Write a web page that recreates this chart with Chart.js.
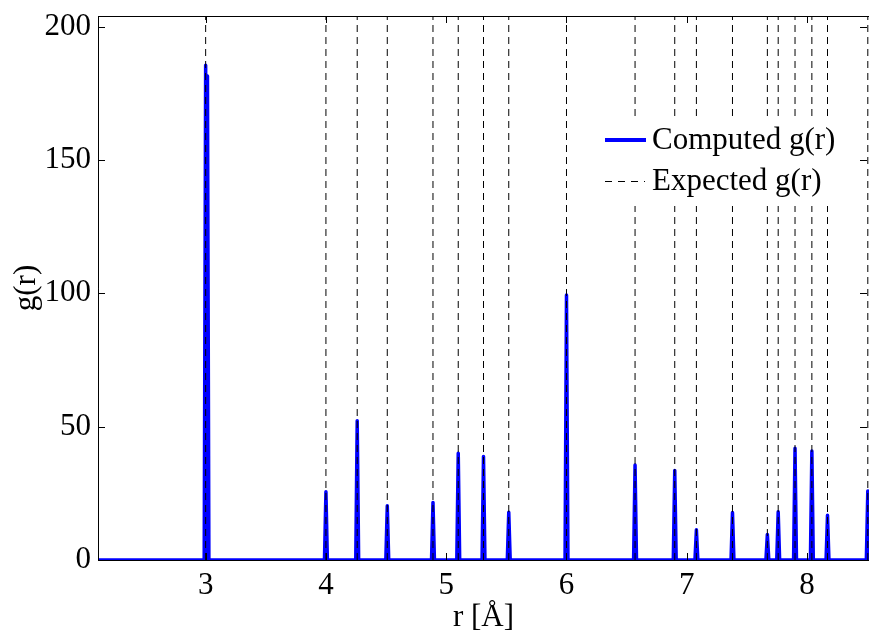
<!DOCTYPE html>
<html>
<head>
<meta charset="utf-8">
<script src="https://cdn.jsdelivr.net/npm/chart.js@4"></script>
<style>
  html, body { margin: 0; padding: 0; background: #fff; }
  #wrap { width: 869px; height: 634px; position: relative; }
</style>
</head>
<body>
<div id="wrap"><canvas id="grChart"></canvas></div>
<script>
  // axis ranges and ticks
  const xMin = 2.105, xMax = 8.515;
  const yMin = 0, yMax = 204;
  const xTicks = [3, 4, 5, 6, 7, 8];
  const yTicks = [0, 50, 100, 150, 200];

  // expected neighbour distances (dashed lines)
  const expectedR = [3.0, 4.0, 4.26, 4.51, 4.89, 5.10, 5.31, 5.52, 6.0, 6.57, 6.90,
                     7.08, 7.38, 7.67, 7.76, 7.90, 8.04, 8.17, 8.505];

  // computed g(r) peaks
  const computedR = [3.0, 3.015, 4.0, 4.26, 4.51, 4.89, 5.10, 5.31, 5.52, 6.0, 6.57,
                     6.90, 7.08, 7.38, 7.67, 7.76, 7.90, 8.04, 8.17, 8.505];
  const computedG = [185.5, 181.5, 25.6, 52.2, 20.3, 21.6, 40.0, 38.8, 17.9, 99.4, 35.6,
                     33.6, 11.3, 17.8, 9.6, 18.1, 41.9, 40.9, 16.8, 25.9];
  const peakHalfWidth = 0.012;

  const FONT = 'Liberation Serif, Times New Roman, serif';

  // blue line: flat at zero with a narrow spike at each peak
  const computedPts = [{x: xMin, y: 0}];
  computedR.forEach((r, i) => {
    computedPts.push({x: r - peakHalfWidth, y: 0});
    computedPts.push({x: r, y: computedG[i]});
    computedPts.push({x: r + peakHalfWidth, y: 0});
  });
  computedPts.push({x: xMax, y: 0});

  // dashed vertical lines, separated by gaps
  const expectedPts = [];
  expectedR.forEach(r => {
    expectedPts.push({x: r, y: yMin});
    expectedPts.push({x: r, y: yMax});
    expectedPts.push({x: r, y: null});
  });

  // box, inward ticks and the legend
  const boxPlugin = {
    id: 'box',
    afterDraw(chart) {
      const {ctx, chartArea: a, scales} = chart;
      ctx.save();
      ctx.strokeStyle = '#000';
      ctx.lineWidth = 1;
      ctx.beginPath();
      xTicks.forEach(v => {
        const px = Math.round(scales.x.getPixelForValue(v)) + 0.5;
        ctx.moveTo(px, a.bottom); ctx.lineTo(px, a.bottom - 7);
        ctx.moveTo(px, a.top); ctx.lineTo(px, a.top + 7);
      });
      yTicks.forEach(v => {
        const py = Math.round(scales.y.getPixelForValue(v)) + 0.5;
        ctx.moveTo(a.left, py); ctx.lineTo(a.left + 7, py);
        ctx.moveTo(a.right - 2, py); ctx.lineTo(a.right - 9, py);
      });
      ctx.stroke();
      ctx.beginPath();
      ctx.moveTo(a.left + 0.5, a.bottom);
      ctx.lineTo(a.left + 0.5, a.top + 0.5);
      ctx.lineTo(a.right, a.top + 0.5);
      ctx.stroke();

      // legend
      ctx.fillStyle = '#fff';
      ctx.fillRect(600, 117, 248, 89);
      ctx.strokeStyle = '#0000ff';
      ctx.lineWidth = 4;
      ctx.beginPath();
      ctx.moveTo(605, 140); ctx.lineTo(646, 140);
      ctx.stroke();
      ctx.strokeStyle = '#000';
      ctx.lineWidth = 1;
      ctx.setLineDash([7, 6]);
      ctx.beginPath();
      ctx.moveTo(605, 181.5); ctx.lineTo(645, 181.5);
      ctx.stroke();
      ctx.setLineDash([]);
      ctx.fillStyle = '#000';
      ctx.font = '31px ' + FONT;
      ctx.textBaseline = 'alphabetic';
      ctx.fillText('Computed g(r)', 652, 149);
      ctx.fillText('Expected g(r)', 652, 190);
      ctx.restore();
    }
  };

  new Chart(document.getElementById('grChart'), {
    type: 'line',
    data: {
      datasets: [{
        label: 'Computed g(r)',
        data: computedPts,
        borderColor: '#0000ff',
        borderWidth: 3.5,
        borderJoinStyle: 'round',
        pointRadius: 0,
        tension: 0,
        order: 2
      }, {
        label: 'Expected g(r)',
        data: expectedPts,
        borderColor: '#000',
        borderWidth: 1,
        borderDash: [7, 5],
        pointRadius: 0,
        spanGaps: false,
        order: 1
      }]
    },
    options: {
      responsive: true,
      maintainAspectRatio: false,
      animation: false,
      layout: { padding: { top: 16, right: 0, bottom: 0, left: 0 } },
      plugins: { legend: { display: false }, tooltip: { enabled: false } },
      scales: {
        x: {
          type: 'linear',
          min: xMin,
          max: xMax,
          afterBuildTicks: s => { s.ticks = xTicks.map(v => ({value: v})); },
          afterFit: s => { s.height = 74; s.paddingLeft = 0; s.paddingRight = 0; },
          grid: { display: false, drawTicks: false },
          border: { display: true, color: '#000', width: 1 },
          ticks: { color: '#000', padding: 7, maxRotation: 0, font: { family: FONT, size: 31 } },
          title: {
            display: true, text: 'r [Å]', color: '#000',
            font: { family: FONT, size: 31, lineHeight: 1 },
            padding: { top: 0, bottom: 1 }
          }
        },
        y: {
          min: yMin,
          max: yMax,
          afterBuildTicks: s => { s.ticks = yTicks.map(v => ({value: v})); },
          afterFit: s => { s.width = 98; s.paddingTop = 0; s.paddingBottom = 0; },
          grid: { display: false, drawTicks: false },
          border: { display: true, color: '#000', width: 1 },
          ticks: { color: '#000', padding: 7, font: { family: FONT, size: 31 } },
          title: {
            display: true, text: 'g(r)', color: '#000',
            font: { family: FONT, size: 31, lineHeight: 1 },
            padding: { top: 11, bottom: 0 }
          }
        }
      }
    },
    plugins: [boxPlugin]
  });
</script>
</body>
</html>
